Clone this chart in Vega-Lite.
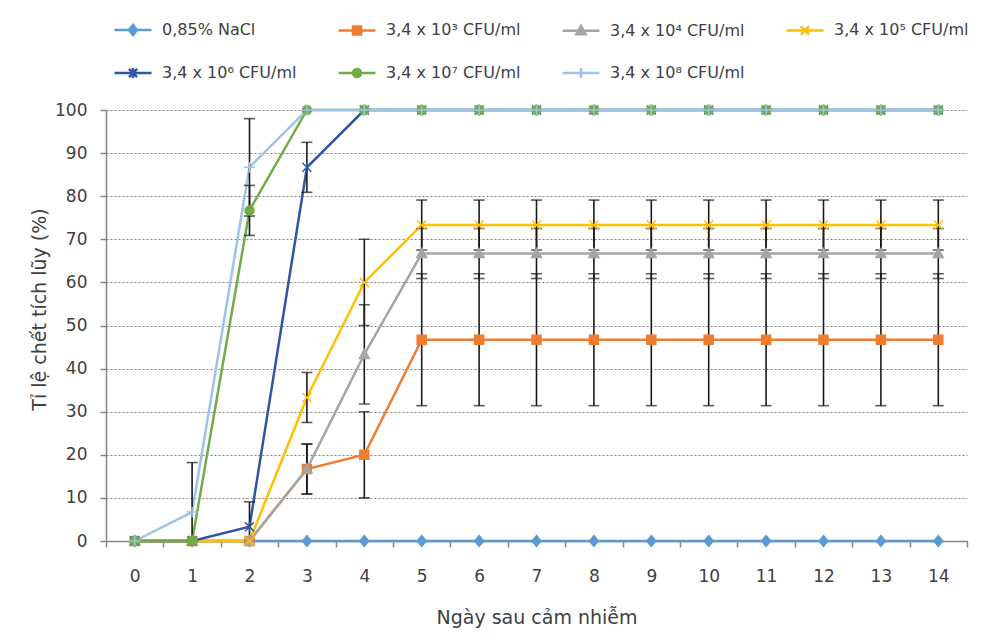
{
  "$schema": "https://vega.github.io/schema/vega-lite/v6.json",
  "autosize": {"type": "none"},
  "width": 861,
  "height": 431,
  "padding": {"left": 106, "top": 110, "right": 17, "bottom": 103},
  "background": "white",
  "config": {
    "font": "DejaVu Sans",
    "view": {"stroke": null},
    "axis": {"labelColor": "#404040", "titleColor": "#404040", "labelFont": "DejaVu Sans", "titleFont": "DejaVu Sans", "titleFontWeight": "normal", "domainColor": "#868686", "tickColor": "#868686", "domainWidth": 1.5, "tickWidth": 1.5}
  },
  "datasets": {
    "main": [
      {"s": "0,85% NaCl", "d": 0, "v": 0}, {"s": "0,85% NaCl", "d": 1, "v": 0}, {"s": "0,85% NaCl", "d": 2, "v": 0}, {"s": "0,85% NaCl", "d": 3, "v": 0}, {"s": "0,85% NaCl", "d": 4, "v": 0}, {"s": "0,85% NaCl", "d": 5, "v": 0}, {"s": "0,85% NaCl", "d": 6, "v": 0}, {"s": "0,85% NaCl", "d": 7, "v": 0}, {"s": "0,85% NaCl", "d": 8, "v": 0}, {"s": "0,85% NaCl", "d": 9, "v": 0}, {"s": "0,85% NaCl", "d": 10, "v": 0}, {"s": "0,85% NaCl", "d": 11, "v": 0}, {"s": "0,85% NaCl", "d": 12, "v": 0}, {"s": "0,85% NaCl", "d": 13, "v": 0}, {"s": "0,85% NaCl", "d": 14, "v": 0},
      {"s": "3,4 x 10³ CFU/ml", "d": 0, "v": 0}, {"s": "3,4 x 10³ CFU/ml", "d": 1, "v": 0}, {"s": "3,4 x 10³ CFU/ml", "d": 2, "v": 0}, {"s": "3,4 x 10³ CFU/ml", "d": 3, "v": 16.7}, {"s": "3,4 x 10³ CFU/ml", "d": 4, "v": 20}, {"s": "3,4 x 10³ CFU/ml", "d": 5, "v": 46.7}, {"s": "3,4 x 10³ CFU/ml", "d": 6, "v": 46.7}, {"s": "3,4 x 10³ CFU/ml", "d": 7, "v": 46.7}, {"s": "3,4 x 10³ CFU/ml", "d": 8, "v": 46.7}, {"s": "3,4 x 10³ CFU/ml", "d": 9, "v": 46.7}, {"s": "3,4 x 10³ CFU/ml", "d": 10, "v": 46.7}, {"s": "3,4 x 10³ CFU/ml", "d": 11, "v": 46.7}, {"s": "3,4 x 10³ CFU/ml", "d": 12, "v": 46.7}, {"s": "3,4 x 10³ CFU/ml", "d": 13, "v": 46.7}, {"s": "3,4 x 10³ CFU/ml", "d": 14, "v": 46.7},
      {"s": "3,4 x 10⁴ CFU/ml", "d": 0, "v": 0}, {"s": "3,4 x 10⁴ CFU/ml", "d": 1, "v": 0}, {"s": "3,4 x 10⁴ CFU/ml", "d": 2, "v": 0}, {"s": "3,4 x 10⁴ CFU/ml", "d": 3, "v": 16.7}, {"s": "3,4 x 10⁴ CFU/ml", "d": 4, "v": 43.3}, {"s": "3,4 x 10⁴ CFU/ml", "d": 5, "v": 66.7}, {"s": "3,4 x 10⁴ CFU/ml", "d": 6, "v": 66.7}, {"s": "3,4 x 10⁴ CFU/ml", "d": 7, "v": 66.7}, {"s": "3,4 x 10⁴ CFU/ml", "d": 8, "v": 66.7}, {"s": "3,4 x 10⁴ CFU/ml", "d": 9, "v": 66.7}, {"s": "3,4 x 10⁴ CFU/ml", "d": 10, "v": 66.7}, {"s": "3,4 x 10⁴ CFU/ml", "d": 11, "v": 66.7}, {"s": "3,4 x 10⁴ CFU/ml", "d": 12, "v": 66.7}, {"s": "3,4 x 10⁴ CFU/ml", "d": 13, "v": 66.7}, {"s": "3,4 x 10⁴ CFU/ml", "d": 14, "v": 66.7},
      {"s": "3,4 x 10⁵ CFU/ml", "d": 0, "v": 0}, {"s": "3,4 x 10⁵ CFU/ml", "d": 1, "v": 0}, {"s": "3,4 x 10⁵ CFU/ml", "d": 2, "v": 0}, {"s": "3,4 x 10⁵ CFU/ml", "d": 3, "v": 33.3}, {"s": "3,4 x 10⁵ CFU/ml", "d": 4, "v": 60}, {"s": "3,4 x 10⁵ CFU/ml", "d": 5, "v": 73.3}, {"s": "3,4 x 10⁵ CFU/ml", "d": 6, "v": 73.3}, {"s": "3,4 x 10⁵ CFU/ml", "d": 7, "v": 73.3}, {"s": "3,4 x 10⁵ CFU/ml", "d": 8, "v": 73.3}, {"s": "3,4 x 10⁵ CFU/ml", "d": 9, "v": 73.3}, {"s": "3,4 x 10⁵ CFU/ml", "d": 10, "v": 73.3}, {"s": "3,4 x 10⁵ CFU/ml", "d": 11, "v": 73.3}, {"s": "3,4 x 10⁵ CFU/ml", "d": 12, "v": 73.3}, {"s": "3,4 x 10⁵ CFU/ml", "d": 13, "v": 73.3}, {"s": "3,4 x 10⁵ CFU/ml", "d": 14, "v": 73.3},
      {"s": "3,4 x 10⁶ CFU/ml", "d": 0, "v": 0}, {"s": "3,4 x 10⁶ CFU/ml", "d": 1, "v": 0}, {"s": "3,4 x 10⁶ CFU/ml", "d": 2, "v": 3.3}, {"s": "3,4 x 10⁶ CFU/ml", "d": 3, "v": 86.7}, {"s": "3,4 x 10⁶ CFU/ml", "d": 4, "v": 100}, {"s": "3,4 x 10⁶ CFU/ml", "d": 5, "v": 100}, {"s": "3,4 x 10⁶ CFU/ml", "d": 6, "v": 100}, {"s": "3,4 x 10⁶ CFU/ml", "d": 7, "v": 100}, {"s": "3,4 x 10⁶ CFU/ml", "d": 8, "v": 100}, {"s": "3,4 x 10⁶ CFU/ml", "d": 9, "v": 100}, {"s": "3,4 x 10⁶ CFU/ml", "d": 10, "v": 100}, {"s": "3,4 x 10⁶ CFU/ml", "d": 11, "v": 100}, {"s": "3,4 x 10⁶ CFU/ml", "d": 12, "v": 100}, {"s": "3,4 x 10⁶ CFU/ml", "d": 13, "v": 100}, {"s": "3,4 x 10⁶ CFU/ml", "d": 14, "v": 100},
      {"s": "3,4 x 10⁷ CFU/ml", "d": 0, "v": 0}, {"s": "3,4 x 10⁷ CFU/ml", "d": 1, "v": 0}, {"s": "3,4 x 10⁷ CFU/ml", "d": 2, "v": 76.7}, {"s": "3,4 x 10⁷ CFU/ml", "d": 3, "v": 100}, {"s": "3,4 x 10⁷ CFU/ml", "d": 4, "v": 100}, {"s": "3,4 x 10⁷ CFU/ml", "d": 5, "v": 100}, {"s": "3,4 x 10⁷ CFU/ml", "d": 6, "v": 100}, {"s": "3,4 x 10⁷ CFU/ml", "d": 7, "v": 100}, {"s": "3,4 x 10⁷ CFU/ml", "d": 8, "v": 100}, {"s": "3,4 x 10⁷ CFU/ml", "d": 9, "v": 100}, {"s": "3,4 x 10⁷ CFU/ml", "d": 10, "v": 100}, {"s": "3,4 x 10⁷ CFU/ml", "d": 11, "v": 100}, {"s": "3,4 x 10⁷ CFU/ml", "d": 12, "v": 100}, {"s": "3,4 x 10⁷ CFU/ml", "d": 13, "v": 100}, {"s": "3,4 x 10⁷ CFU/ml", "d": 14, "v": 100},
      {"s": "3,4 x 10⁸ CFU/ml", "d": 0, "v": 0}, {"s": "3,4 x 10⁸ CFU/ml", "d": 1, "v": 6.7}, {"s": "3,4 x 10⁸ CFU/ml", "d": 2, "v": 86.7}, {"s": "3,4 x 10⁸ CFU/ml", "d": 3, "v": 100}, {"s": "3,4 x 10⁸ CFU/ml", "d": 4, "v": 100}, {"s": "3,4 x 10⁸ CFU/ml", "d": 5, "v": 100}, {"s": "3,4 x 10⁸ CFU/ml", "d": 6, "v": 100}, {"s": "3,4 x 10⁸ CFU/ml", "d": 7, "v": 100}, {"s": "3,4 x 10⁸ CFU/ml", "d": 8, "v": 100}, {"s": "3,4 x 10⁸ CFU/ml", "d": 9, "v": 100}, {"s": "3,4 x 10⁸ CFU/ml", "d": 10, "v": 100}, {"s": "3,4 x 10⁸ CFU/ml", "d": 11, "v": 100}, {"s": "3,4 x 10⁸ CFU/ml", "d": 12, "v": 100}, {"s": "3,4 x 10⁸ CFU/ml", "d": 13, "v": 100}, {"s": "3,4 x 10⁸ CFU/ml", "d": 14, "v": 100}
    ],
    "err": [
      {"s": "3,4 x 10⁸ CFU/ml", "d": 1, "lo": 0, "hi": 18.2},
      {"s": "3,4 x 10⁸ CFU/ml", "d": 2, "lo": 75.4, "hi": 98.0},
      {"s": "3,4 x 10⁷ CFU/ml", "d": 2, "lo": 70.9, "hi": 82.5},
      {"s": "3,4 x 10⁶ CFU/ml", "d": 2, "lo": 0, "hi": 9.1},
      {"s": "3,4 x 10⁶ CFU/ml", "d": 3, "lo": 80.9, "hi": 92.5},
      {"s": "3,4 x 10⁵ CFU/ml", "d": 3, "lo": 27.5, "hi": 39.1},
      {"s": "3,4 x 10⁴ CFU/ml", "d": 3, "lo": 10.9, "hi": 22.5},
      {"s": "3,4 x 10³ CFU/ml", "d": 3, "lo": 10.9, "hi": 22.5},
      {"s": "3,4 x 10⁵ CFU/ml", "d": 4, "lo": 50, "hi": 70},
      {"s": "3,4 x 10⁴ CFU/ml", "d": 4, "lo": 31.8, "hi": 54.8},
      {"s": "3,4 x 10³ CFU/ml", "d": 4, "lo": 10, "hi": 30},
      {"s": "3,4 x 10⁵ CFU/ml", "d": 5, "lo": 67.5, "hi": 79.1}, {"s": "3,4 x 10⁴ CFU/ml", "d": 5, "lo": 60.9, "hi": 72.5}, {"s": "3,4 x 10³ CFU/ml", "d": 5, "lo": 31.4, "hi": 62.0},
      {"s": "3,4 x 10⁵ CFU/ml", "d": 6, "lo": 67.5, "hi": 79.1}, {"s": "3,4 x 10⁴ CFU/ml", "d": 6, "lo": 60.9, "hi": 72.5}, {"s": "3,4 x 10³ CFU/ml", "d": 6, "lo": 31.4, "hi": 62.0},
      {"s": "3,4 x 10⁵ CFU/ml", "d": 7, "lo": 67.5, "hi": 79.1}, {"s": "3,4 x 10⁴ CFU/ml", "d": 7, "lo": 60.9, "hi": 72.5}, {"s": "3,4 x 10³ CFU/ml", "d": 7, "lo": 31.4, "hi": 62.0},
      {"s": "3,4 x 10⁵ CFU/ml", "d": 8, "lo": 67.5, "hi": 79.1}, {"s": "3,4 x 10⁴ CFU/ml", "d": 8, "lo": 60.9, "hi": 72.5}, {"s": "3,4 x 10³ CFU/ml", "d": 8, "lo": 31.4, "hi": 62.0},
      {"s": "3,4 x 10⁵ CFU/ml", "d": 9, "lo": 67.5, "hi": 79.1}, {"s": "3,4 x 10⁴ CFU/ml", "d": 9, "lo": 60.9, "hi": 72.5}, {"s": "3,4 x 10³ CFU/ml", "d": 9, "lo": 31.4, "hi": 62.0},
      {"s": "3,4 x 10⁵ CFU/ml", "d": 10, "lo": 67.5, "hi": 79.1}, {"s": "3,4 x 10⁴ CFU/ml", "d": 10, "lo": 60.9, "hi": 72.5}, {"s": "3,4 x 10³ CFU/ml", "d": 10, "lo": 31.4, "hi": 62.0},
      {"s": "3,4 x 10⁵ CFU/ml", "d": 11, "lo": 67.5, "hi": 79.1}, {"s": "3,4 x 10⁴ CFU/ml", "d": 11, "lo": 60.9, "hi": 72.5}, {"s": "3,4 x 10³ CFU/ml", "d": 11, "lo": 31.4, "hi": 62.0},
      {"s": "3,4 x 10⁵ CFU/ml", "d": 12, "lo": 67.5, "hi": 79.1}, {"s": "3,4 x 10⁴ CFU/ml", "d": 12, "lo": 60.9, "hi": 72.5}, {"s": "3,4 x 10³ CFU/ml", "d": 12, "lo": 31.4, "hi": 62.0},
      {"s": "3,4 x 10⁵ CFU/ml", "d": 13, "lo": 67.5, "hi": 79.1}, {"s": "3,4 x 10⁴ CFU/ml", "d": 13, "lo": 60.9, "hi": 72.5}, {"s": "3,4 x 10³ CFU/ml", "d": 13, "lo": 31.4, "hi": 62.0},
      {"s": "3,4 x 10⁵ CFU/ml", "d": 14, "lo": 67.5, "hi": 79.1}, {"s": "3,4 x 10⁴ CFU/ml", "d": 14, "lo": 60.9, "hi": 72.5}, {"s": "3,4 x 10³ CFU/ml", "d": 14, "lo": 31.4, "hi": 62.0}
    ]
  },
  "encoding": {
    "x": {
      "field": "d", "type": "ordinal", "bandPosition": 0.5,
      "scale": {"type": "band", "paddingInner": 0, "paddingOuter": 0, "domain": [0,1,2,3,4,5,6,7,8,9,10,11,12,13,14]},
      "axis": {"title": "Ngày sau cảm nhiễm", "labelAngle": 0, "tickBand": "extent", "tickSize": 6, "labelPadding": 21, "labelFontSize": 17, "titleFontSize": 19, "titleY": 76, "titleBaseline": "middle", "grid": false}
    }
  },
  "layer": [
    {
      "data": {"name": "main"},
      "mark": {"type": "line", "strokeWidth": 2.5},
      "encoding": {
        "y": {"field": "v", "type": "quantitative", "scale": {"domain": [0, 100], "nice": false},
          "axis": {"title": "Tỉ lệ chết tích lũy (%)", "values": [0,10,20,30,40,50,60,70,80,90,100], "tickSize": 6, "labelPadding": 13, "labelFontSize": 17, "titleFontSize": 19, "grid": true, "gridDash": [2, 2], "gridColor": "#808080", "gridWidth": 1.2, "titleX": -67, "titleY": 199, "titleBaseline": "middle", "titleAngle": -90}},
        "stroke": {"field": "s", "type": "nominal",
          "scale": {"domain": ["0,85% NaCl", "3,4 x 10³ CFU/ml", "3,4 x 10⁴ CFU/ml", "3,4 x 10⁵ CFU/ml", "3,4 x 10⁶ CFU/ml", "3,4 x 10⁷ CFU/ml", "3,4 x 10⁸ CFU/ml"],
            "range": ["#5B9BD5", "#ED7D31", "#A5A5A5", "#FFC000", "#2F55A4", "#70AD47", "#9DC3E6"]},
          "legend": {
            "orient": "none", "legendX": 7, "legendY": -100, "direction": "horizontal", "columns": 4, "title": null,
            "symbolSize": 1369, "symbolStrokeWidth": 2.5, "labelFontSize": 16, "labelFont": "DejaVu Sans", "labelColor": "#404040",
            "columnPadding": 36, "rowPadding": 13, "labelOffset": 9, "labelLimit": 300,
            "encode": {"symbols": {"update": {
              "fill": {"scale": "stroke", "field": "value"},
              "shape": {"signal": "['M-1,0L1,0M0,-0.27L0.22,0L0,0.27L-0.22,0Z','M-1,0L1,0M-0.22,-0.22L0.22,-0.22L0.22,0.22L-0.22,0.22Z','M-1,0L1,0M0,-0.26L0.25,0.2L-0.25,0.2Z','M-1,0L1,0M-0.22,-0.22L0.22,0.22M-0.22,0.22L0.22,-0.22','M-1,0L1,0M-0.22,-0.22L0.22,0.22M-0.22,0.22L0.22,-0.22M0,-0.27L0,0.27','M-1,0L1,0M-0.22,0A0.22,0.22,0,1,0,0.22,0A0.22,0.22,0,1,0,-0.22,0Z','M-1,0L1,0M0,-0.27L0,0.27'][indexof(['0,85% NaCl','3,4 x 10³ CFU/ml','3,4 x 10⁴ CFU/ml','3,4 x 10⁵ CFU/ml','3,4 x 10⁶ CFU/ml','3,4 x 10⁷ CFU/ml','3,4 x 10⁸ CFU/ml'], datum.value)]"}
            }}}
          }
        }
      }
    },
    {
      "data": {"name": "err"},
      "mark": {"type": "rule", "color": "#1a1a1a", "strokeWidth": 1.6},
      "encoding": {"y": {"field": "lo", "type": "quantitative"}, "y2": {"field": "hi"}}
    },
    {
      "data": {"name": "err"},
      "mark": {"type": "tick", "color": "#1a1a1a", "size": 11, "thickness": 1.6, "orient": "horizontal"},
      "encoding": {"y": {"field": "lo", "type": "quantitative"}}
    },
    {
      "data": {"name": "err"},
      "mark": {"type": "tick", "color": "#1a1a1a", "size": 11, "thickness": 1.6, "orient": "horizontal"},
      "encoding": {"y": {"field": "hi", "type": "quantitative"}}
    },
    {
      "data": {"name": "main"},
      "mark": {"type": "point", "filled": true, "size": 81, "strokeWidth": 1.5, "opacity": 1},
      "encoding": {
        "y": {"field": "v", "type": "quantitative"},
        "fill": {"field": "s", "type": "nominal",
          "scale": {"range": ["#5B9BD5", "#ED7D31", "#A5A5A5", "#FFC000", "#2F55A4", "#70AD47", "#9DC3E6"]}, "legend": null},
        "stroke": {"field": "s", "type": "nominal"},
        "shape": {"field": "s", "type": "nominal",
          "scale": {"range": ["M0,-1.2L1,0L0,1.2L-1,0Z", "M-1,-1L1,-1L1,1L-1,1Z", "M0,-1.1L1.1,0.9L-1.1,0.9Z", "M-1,-1L1,1M-1,1L1,-1", "M-1,-1L1,1M-1,1L1,-1M0,-1.2L0,1.2", "M-1,0A1,1,0,1,0,1,0A1,1,0,1,0,-1,0Z", "M-1.2,0L1.2,0M0,-1.2L0,1.2"]}, "legend": null}
      }
    }
  ]
}
